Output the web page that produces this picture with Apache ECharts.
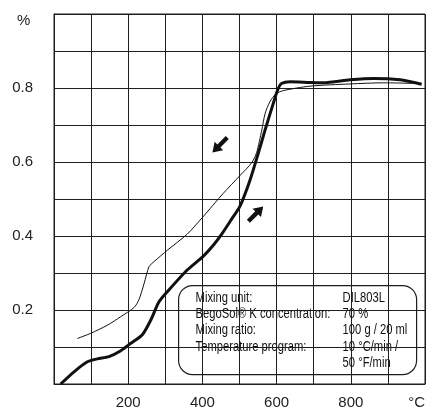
<!DOCTYPE html>
<html>
<head>
<meta charset="utf-8">
<script src="https://cdn.jsdelivr.net/npm/echarts@6/dist/echarts.min.js"></script>
<style>
  html, body { margin: 0; padding: 0; background: #fff; }
  #chart { width: 427px; height: 409px; }
</style>
</head>
<body>
<div id="chart"></div>
<script>
// heating curve (thick) and cooling curve (thin), [temperature °C, expansion %]
var heating = [
  [18, 0.0], [54, 0.033], [90, 0.06], [117, 0.068], [148, 0.074], [180, 0.09],
  [207, 0.11], [238, 0.133], [261, 0.173], [283, 0.222], [306, 0.25], [359, 0.308],
  [402, 0.345], [431, 0.377], [452, 0.405], [475, 0.44], [501, 0.48], [528, 0.55],
  [551, 0.625], [570, 0.69], [590, 0.755], [604, 0.798], [613, 0.812],
  [636, 0.817], [690, 0.815], [726, 0.814], [798, 0.822], [861, 0.826], [933, 0.822],
  [991, 0.81]
];
var cooling = [
  [63, 0.123], [99, 0.137], [144, 0.159], [180, 0.182], [216, 0.207], [229, 0.228],
  [243, 0.272], [256, 0.317], [270, 0.331], [306, 0.362], [359, 0.405], [400, 0.45],
  [456, 0.515], [501, 0.563], [533, 0.598], [546, 0.625], [560, 0.686], [569, 0.731],
  [582, 0.763], [598, 0.784], [618, 0.793], [690, 0.805], [798, 0.811], [888, 0.814],
  [991, 0.812]
];
// direction arrows: [temperature, expansion]
var arrowDown = [447, 0.646];
var arrowUp = [544, 0.46];

var xTickLabels = ['200', '400', '600', '800'];
var yTickLabels = ['0.2', '0.4', '0.6', '0.8'];
var xUnit = '°C';
var yUnit = '%';

var infoKeys = ['Mixing unit:', 'BegoSol® K concentration:', 'Mixing ratio:', 'Temperature program:', ''];
var infoValues = ['DIL803L', '70 %', '100 g / 20 ml', '10 °C/min /', '50 °F/min'];

var FONT = '"Liberation Sans", Arial, sans-serif';
var INK = '#1e1e1e';
var ARROW = 'path://M5,0 L10,7 L6.8,7 L6.8,16 L3.2,16 L3.2,7 L0,7 Z';
var NARROW = 0.8; // squeeze text to look like the condensed face of the original

var chart = echarts.init(document.getElementById('chart'), null, { renderer: 'canvas' });

chart.setOption({
  animation: false,
  backgroundColor: '#fff',
  grid: {
    left: 54, top: 14, right: 2, bottom: 25,
    show: true, borderColor: INK, borderWidth: 1,
    outerBoundsMode: 'none'
  },
  xAxis: {
    type: 'value', min: 0, max: 1000, interval: 100,
    axisLine: { show: true, lineStyle: { color: INK, width: 1 } },
    axisTick: { show: false },
    splitLine: { show: true, lineStyle: { color: INK, width: 1 } },
    axisLabel: {
      margin: 11, fontSize: 15, color: '#222', fontFamily: FONT,
      alignMaxLabel: 'right',
      formatter: function(v) {
        if (v === 1000) return xUnit;
        var s = String(Math.round(v));
        return xTickLabels.indexOf(s) >= 0 ? s : '';
      }
    }
  },
  yAxis: {
    type: 'value', min: 0, max: 1, interval: 0.1,
    axisLine: { show: true, lineStyle: { color: INK, width: 1 } },
    axisTick: { show: false },
    splitLine: { show: true, lineStyle: { color: INK, width: 1 } },
    axisLabel: {
      margin: 21, fontSize: 15, color: '#222', fontFamily: FONT,
      formatter: function(v) {
        var s = v.toFixed(1);
        return yTickLabels.indexOf(s) >= 0 ? s : '';
      }
    }
  },
  series: [
    {
      name: 'heating', type: 'line', data: heating,
      smooth: 0.25, showSymbol: false, z: 5,
      lineStyle: { color: '#111', width: 3 },
      markPoint: {
        silent: true,
        symbol: ARROW,
        symbolSize: [12, 21],
        itemStyle: { color: '#111' },
        label: { show: false },
        data: [
          { coord: arrowDown, symbolRotate: 135 },
          { coord: arrowUp, symbolRotate: -45 }
        ]
      }
    },
    {
      name: 'cooling', type: 'line', data: cooling,
      smooth: 0.25, showSymbol: false, z: 4,
      lineStyle: { color: '#111', width: 1 }
    }
  ],
  graphic: [
    {
      type: 'text', left: 17, top: 13, z: 10,
      style: { text: yUnit, fontSize: 15, fill: '#222', fontFamily: FONT }
    },
    {
      type: 'group', left: 178, top: 285, z: 20,
      children: [
        {
          type: 'rect',
          shape: { x: 0, y: 0, width: 238, height: 89, r: 14 },
          style: { fill: '#fff', stroke: INK, lineWidth: 1.2 }
        },
        {
          type: 'text', x: 17, y: 4, scaleX: NARROW,
          style: {
            text: infoKeys.join('\n'), fontSize: 14, lineHeight: 16.3,
            fill: '#111', fontFamily: FONT
          }
        },
        {
          type: 'text', x: 164, y: 4, scaleX: NARROW,
          style: {
            text: infoValues.join('\n'), fontSize: 14, lineHeight: 16.3,
            fill: '#111', fontFamily: FONT
          }
        }
      ]
    }
  ]
});
</script>
</body>
</html>
